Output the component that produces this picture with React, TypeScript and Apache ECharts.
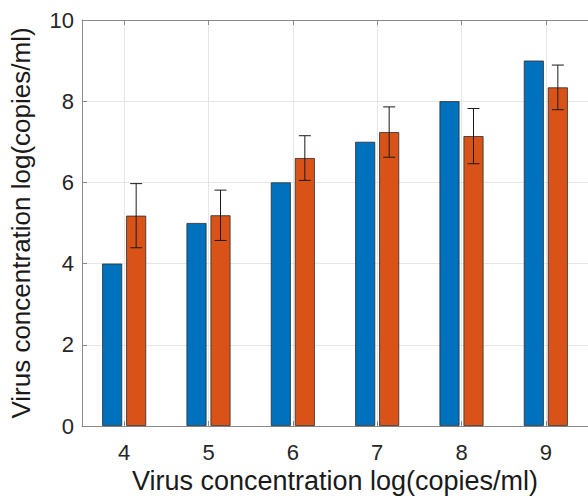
import React, { useEffect, useRef } from "react";
import * as echarts from "echarts";

const categories = ["4", "5", "6", "7", "8", "9"];
const expectedValues = [4, 5, 6, 7, 8, 9];
const measuredValues = [5.18, 5.19, 6.6, 7.24, 7.14, 8.34];
const measuredErrors = [0.79, 0.62, 0.55, 0.62, 0.68, 0.55];
const yTicks = { min: 0, max: 10, interval: 2 };

const AXIS_NAME = "Virus concentration log(copies/ml)";
const FONT = "Liberation Sans, Arial, sans-serif";
const BAR_W = 20;
const BAR_GAP = 4;

export default function App() {
  const ref = useRef<HTMLDivElement>(null);
  useEffect(() => {
    if (!ref.current) return;
    const chart = echarts.init(ref.current, undefined, { renderer: "svg" });
    const errData = categories.map((c, i) => [
      i,
      measuredValues[i] - measuredErrors[i],
      measuredValues[i] + measuredErrors[i],
    ]);
    const axisColor = "#8a8a8a";
    chart.setOption({
      animation: false,
      backgroundColor: "#ffffff",
      grid: { left: 82, right: -8, top: 20, bottom: 78, containLabel: false },
      xAxis: [
        {
          type: "category",
          data: categories,
          position: "bottom",
          name: AXIS_NAME,
          nameLocation: "middle",
          nameGap: 28,
          nameTextStyle: { fontFamily: FONT, fontSize: 27, color: "#1a1a1a" },
          axisLine: { show: true, lineStyle: { color: axisColor, width: 1 } },
          axisTick: { show: true, inside: true, alignWithLabel: true, length: 5, lineStyle: { color: axisColor } },
          axisLabel: { fontFamily: FONT, fontSize: 22, color: "#262626", margin: 15 },
          splitLine: { show: true, alignWithLabel: true, lineStyle: { color: "#e6e6e6", width: 1 } },
        },
        {
          type: "category",
          data: categories,
          position: "top",
          axisLine: { show: true, lineStyle: { color: axisColor, width: 1 } },
          axisTick: { show: true, inside: true, alignWithLabel: true, length: 5, lineStyle: { color: axisColor } },
          axisLabel: { show: false },
          splitLine: { show: false },
        },
      ],
      yAxis: {
        type: "value",
        min: yTicks.min,
        max: yTicks.max,
        interval: yTicks.interval,
        name: AXIS_NAME,
        nameLocation: "middle",
        nameGap: 48,
        nameTextStyle: { fontFamily: FONT, fontSize: 26, color: "#1a1a1a" },
        axisLine: { show: true, lineStyle: { color: axisColor, width: 1 } },
        axisTick: { show: true, inside: true, length: 5, lineStyle: { color: axisColor } },
        axisLabel: { fontFamily: FONT, fontSize: 22, color: "#262626", margin: 8 },
        splitLine: { show: true, lineStyle: { color: "#e6e6e6", width: 1 } },
      },
      series: [
        {
          type: "bar",
          data: expectedValues,
          barWidth: BAR_W,
          barGap: `${(BAR_GAP / BAR_W) * 100}%`,
          itemStyle: { color: "#0072BD", borderColor: "#2a2a2a", borderWidth: 0.8 },
        },
        {
          type: "bar",
          data: measuredValues,
          barWidth: BAR_W,
          itemStyle: { color: "#D95319", borderColor: "#2a2a2a", borderWidth: 0.8 },
        },
        {
          type: "custom",
          data: errData,
          z: 10,
          renderItem: (params: any, api: any) => {
            const idx = api.value(0);
            const lo = api.coord([idx, api.value(1)]);
            const hi = api.coord([idx, api.value(2)]);
            const x = lo[0] + (BAR_W + BAR_GAP) / 2;
            const cap = 6;
            const style = { stroke: "#1a1a1a", lineWidth: 1 };
            return {
              type: "group",
              children: [
                { type: "line", shape: { x1: x, y1: lo[1], x2: x, y2: hi[1] }, style },
                { type: "line", shape: { x1: x - cap, y1: hi[1], x2: x + cap, y2: hi[1] }, style },
                { type: "line", shape: { x1: x - cap, y1: lo[1], x2: x + cap, y2: lo[1] }, style },
              ],
            };
          },
        },
      ],
    });
    return () => chart.dispose();
  }, []);
  return (
    <div
      ref={ref}
      style={{ position: "absolute", left: 0, top: 0, width: 588, height: 504, background: "#fff" }}
    />
  );
}
